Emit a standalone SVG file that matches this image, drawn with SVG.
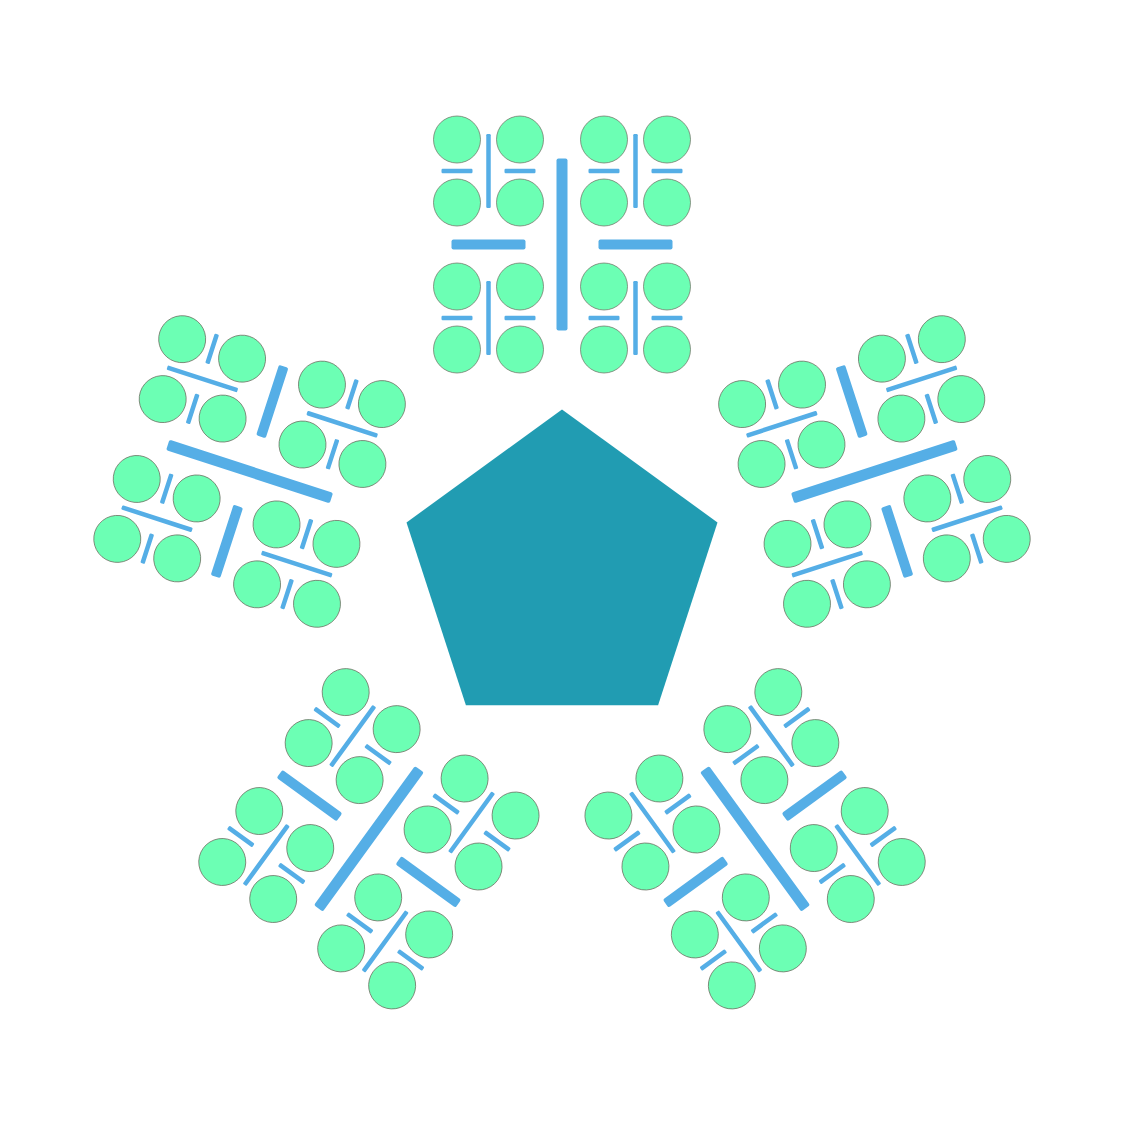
<svg xmlns="http://www.w3.org/2000/svg" xmlns:xlink="http://www.w3.org/1999/xlink" width="1125" height="1125" viewBox="0 0 1125 1125">
  <style>
    .seat { fill: #6cffb4; stroke: #6b6b5e; stroke-width: 0.7; }
    .bar { fill: #55aee6; }
    .core { fill: #219cb2; }
  </style>
  <defs>
    <g id="sub">
      <circle class="seat" cx="-31.5" cy="-31.5" r="23.5"/>
      <circle class="seat" cx="31.5" cy="-31.5" r="23.5"/>
      <circle class="seat" cx="-31.5" cy="31.5" r="23.5"/>
      <circle class="seat" cx="31.5" cy="31.5" r="23.5"/>
      <rect class="bar" x="-2.25" y="-37" width="4.5" height="74" rx="1.2"/>
      <rect class="bar" x="-47" y="-2.25" width="31" height="4.5" rx="1.2"/>
      <rect class="bar" x="16" y="-2.25" width="31" height="4.5" rx="1.2"/>
    </g>
    <g id="cluster">
      <use xlink:href="#sub" href="#sub" x="-73.5" y="-73.5"/>
      <use xlink:href="#sub" href="#sub" x="73.5" y="-73.5"/>
      <use xlink:href="#sub" href="#sub" x="-73.5" y="73.5"/>
      <use xlink:href="#sub" href="#sub" x="73.5" y="73.5"/>
      <rect class="bar" x="-5.5" y="-86" width="11" height="172" rx="2"/>
      <rect class="bar" x="-110.5" y="-5" width="74" height="10" rx="2"/>
      <rect class="bar" x="36.5" y="-5" width="74" height="10" rx="2"/>
    </g>
  </defs>
  <rect width="1125" height="1125" fill="#ffffff"/>
  <g id="center-pentagon">
    <polygon class="core" points="562,409.5 717.5,522.5 658.1,705.3 465.9,705.3 406.5,522.5"/>
  </g>
  <g id="cluster-top" transform="rotate(0 562 573) translate(562 244.5)">
    <use xlink:href="#cluster" href="#cluster"/>
  </g>
  <g id="cluster-right" transform="rotate(72 562 573) translate(562 244.5)">
    <use xlink:href="#cluster" href="#cluster"/>
  </g>
  <g id="cluster-bottom-right" transform="rotate(144 562 573) translate(562 244.5)">
    <use xlink:href="#cluster" href="#cluster"/>
  </g>
  <g id="cluster-bottom-left" transform="rotate(216 562 573) translate(562 244.5)">
    <use xlink:href="#cluster" href="#cluster"/>
  </g>
  <g id="cluster-left" transform="rotate(288 562 573) translate(562 244.5)">
    <use xlink:href="#cluster" href="#cluster"/>
  </g>
  <g id="connectors"/>
</svg>
